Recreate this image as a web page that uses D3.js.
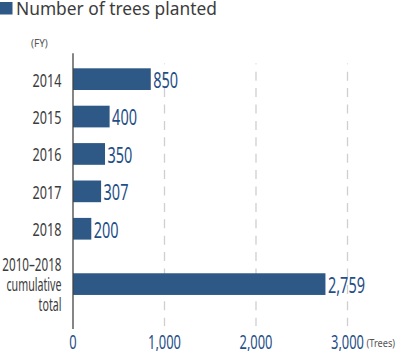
<!DOCTYPE html>
<html><head><meta charset="utf-8">
<script src="https://cdn.jsdelivr.net/npm/d3@7"></script>
<style>
body{margin:0;background:#fff;}
text{font-family:"Noto Sans",sans-serif;}
</style></head>
<body><div id="chart"></div>
<script>
const years = ["2014","2015","2016","2017","2018"];
const yearValues = [850, 400, 350, 307, 200];
const totalLabel = ["2010–2018","cumulative","total"];
const totalValue = 2759;
const xTicks = [0, 1000, 2000, 3000];
const title = "Number of trees planted";
const unitY = "(FY)";
const unitX = "(Trees)";

const W = 399, H = 351;
const svg = d3.select("#chart").append("svg").attr("width", W).attr("height", H);
const barColor = "#2e5886", valColor = "#1f4f87", txt = "#3c3c3c";

// condensed text helper: text drawn in a horizontally squeezed group
function ctext(parent, px, py, str, size, sx, anchor, fill) {
  const g = parent.append("g").attr("transform", `translate(${px},${py}) scale(${sx},1)`);
  return g.append("text").attr("x", 0).attr("y", 0).attr("font-size", size)
    .attr("text-anchor", anchor || "start").attr("fill", fill).text(str);
}

const x = d3.scaleLinear().domain([0, 3000]).range([73, 347.5]);
const y = d3.scaleBand().domain(years).range([68.3, 239.6]).paddingInner(0.42).paddingOuter(0);
const step = y.step(), bh = y.bandwidth();
const yPos = k => k === "total" ? y(years[years.length - 1]) + step * 1.48 : y(k);

// grid lines
svg.append("g").selectAll("line").data(xTicks.slice(1)).join("line")
  .attr("x1", d => x(d)).attr("x2", d => x(d)).attr("y1", 63.5).attr("y2", 326)
  .attr("stroke", "#cfcfcf").attr("stroke-width", 1.3)
  .attr("stroke-dasharray", "9,7.4").attr("stroke-dashoffset", 8.2);

// title
svg.append("rect").attr("x", 0).attr("y", 2).attr("width", 12.5).attr("height", 12.5).attr("fill", barColor);
const tt = ctext(svg, 16, 14.5, title, 18.6, 1, "start", txt);
const tw = tt.node().getComputedTextLength();
tt.node().parentNode.setAttribute("transform", `translate(16,14.5) scale(${201 / tw},1)`);
ctext(svg, 31, 47, unitY, 10.5, 0.95, "start", "#555");

// bars
const data = years.map((k, i) => ({k, v: yearValues[i]})).concat([{k: "total", v: totalValue}]);
svg.append("g").selectAll("rect").data(data).join("rect")
  .attr("x", x(0)).attr("y", d => yPos(d.k)).attr("width", d => x(d.v) - x(0)).attr("height", bh)
  .attr("fill", barColor);
const vg = svg.append("g");
data.forEach(d => ctext(vg, x(d.v) + 2.5, yPos(d.k) + bh / 2 + 8.8, d3.format(",")(d.v), 21, 0.69, "start", valColor));

// category labels
const cg = svg.append("g");
years.forEach(k => ctext(cg, 61.5, yPos(k) + bh / 2 + 7.4, k, 17.8, 0.71, "end", txt));
const lineScale = [0.655, 0.6, 0.6];
totalLabel.forEach((s, i) => ctext(cg, 61.5, yPos("total") + bh / 2 + 7.2 + (i - 1) * 20, s, 17.8, lineScale[i], "end", txt));

// axis line
svg.append("line").attr("x1", x(0)).attr("x2", x(0)).attr("y1", 53.3).attr("y2", 329)
  .attr("stroke", "#444").attr("stroke-width", 1.3);

// x tick labels
const xg = svg.append("g");
xTicks.forEach(t => ctext(xg, x(t), 348.5, d3.format(",")(t), 19.5, 0.66, "middle", valColor));
ctext(svg, 366.5, 346.5, unitX, 11.5, 0.8, "start", "#555");
</script></body></html>
